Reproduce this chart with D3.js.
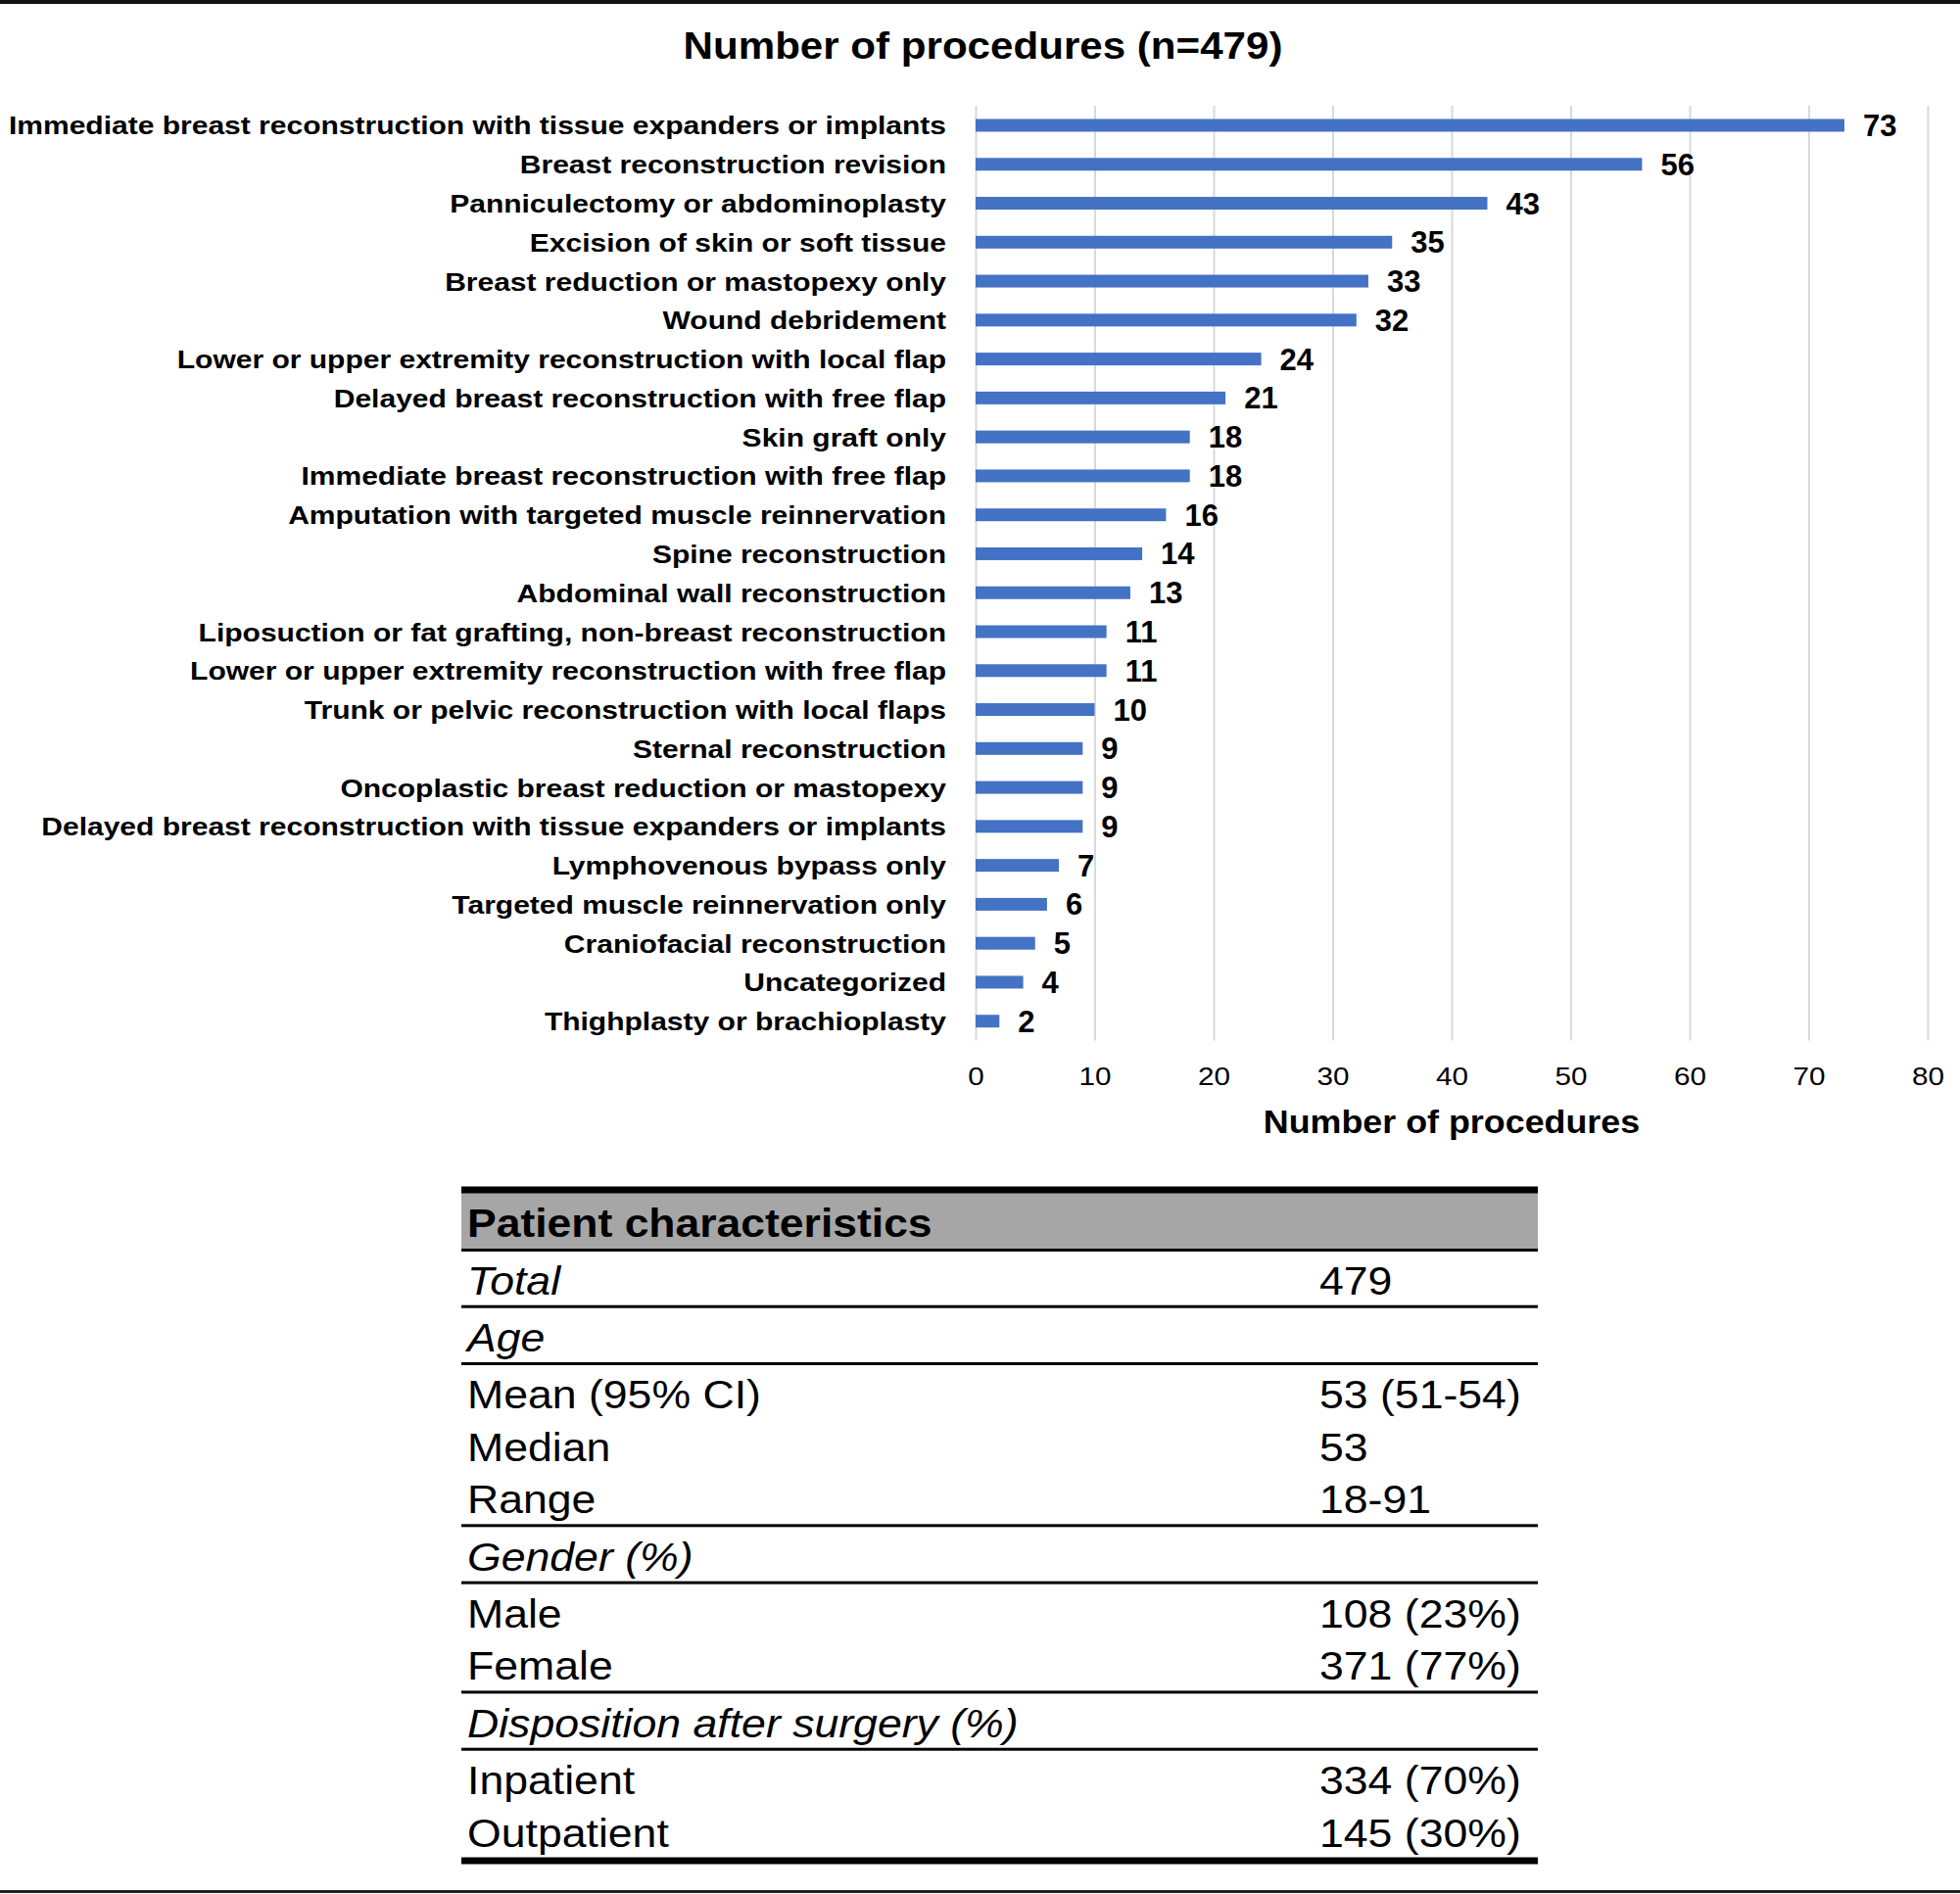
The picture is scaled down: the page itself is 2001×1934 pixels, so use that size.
<!DOCTYPE html>
<html>
<head>
<meta charset="utf-8">
<script src="https://cdn.jsdelivr.net/npm/d3@7"></script>
<style>
  html, body { margin: 0; padding: 0; background: #fff; }
  svg { display: block; }
  text { font-family: "Liberation Sans", Arial, sans-serif; fill: #000; }
</style>
</head>
<body>
<svg id="chart" width="2001" height="1934"></svg>
<script>
// ---------- data ----------
const chartTitle = "Number of procedures (n=479)";
const axisTitle = "Number of procedures";
const categories = [
  "Immediate breast reconstruction with tissue expanders or implants",
  "Breast reconstruction revision",
  "Panniculectomy or abdominoplasty",
  "Excision of skin or soft tissue",
  "Breast reduction or mastopexy only",
  "Wound debridement",
  "Lower or upper extremity reconstruction with local flap",
  "Delayed breast reconstruction with free flap",
  "Skin graft only",
  "Immediate breast reconstruction with free flap",
  "Amputation with targeted muscle reinnervation",
  "Spine reconstruction",
  "Abdominal wall reconstruction",
  "Liposuction or fat grafting, non-breast reconstruction",
  "Lower or upper extremity reconstruction with free flap",
  "Trunk or pelvic reconstruction with local flaps",
  "Sternal reconstruction",
  "Oncoplastic breast reduction or mastopexy",
  "Delayed breast reconstruction with tissue expanders or implants",
  "Lymphovenous bypass only",
  "Targeted muscle reinnervation only",
  "Craniofacial reconstruction",
  "Uncategorized",
  "Thighplasty or brachioplasty"
];
const counts = [73, 56, 43, 35, 33, 32, 24, 21, 18, 18, 16, 14, 13, 11, 11, 10, 9, 9, 9, 7, 6, 5, 4, 2];
const xTicks = [0, 10, 20, 30, 40, 50, 60, 70, 80];

const tableHeader = "Patient characteristics";
const tableLabels = ["Total", "Age", "Mean (95% CI)", "Median", "Range", "Gender (%)", "Male", "Female",
                     "Disposition after surgery (%)", "Inpatient", "Outpatient"];
const tableValues = ["479", "", "53 (51-54)", "53", "18-91", "", "108 (23%)", "371 (77%)", "", "334 (70%)", "145 (30%)"];
const sectionRows = ["Total", "Age", "Gender (%)", "Disposition after surgery (%)"];
const rowsFollowedByRule = ["Total", "Age", "Range", "Gender (%)", "Female", "Disposition after surgery (%)"];

// ---------- layout ----------
const svg = d3.select("#chart");
const W = 2001, H = 1934;
const plotLeft = 996, plotRight = 1968, plotTop = 108.1, plotBottom = 1062.6;
const barColor = "#4472C4";
const gridColor = "#d9d9d9";

function stretchedText(sel, x, y, sx) {
  return sel.attr("transform", `translate(${x},${y}) scale(${sx},1)`);
}

// frame lines
svg.append("rect").attr("x", 0).attr("y", 0).attr("width", W).attr("height", 4).attr("fill", "#111");
svg.append("rect").attr("x", 0).attr("y", 1930).attr("width", W).attr("height", 3).attr("fill", "#222");

// title
stretchedText(svg.append("text"), 1003.5, 60, 1.08)
  .attr("text-anchor", "middle").attr("font-size", 39).attr("font-weight", "bold").text(chartTitle);

const x = d3.scaleLinear().domain([0, 80]).range([plotLeft, plotRight]);
const y = d3.scaleBand().domain(categories).range([plotTop, plotBottom]).padding(0);

// gridlines
const grid = svg.append("g").attr("transform", `translate(0,${plotBottom})`)
  .call(d3.axisBottom(x).tickValues(xTicks).tickSize(-(plotBottom - plotTop)).tickFormat(""));
grid.select(".domain").remove();
grid.selectAll(".tick line").attr("stroke", gridColor).attr("stroke-width", 2);

// bars
const barH = 13;
svg.append("g").selectAll("rect").data(categories).join("rect")
  .attr("x", x(0))
  .attr("y", d => y(d) + y.bandwidth() / 2 - barH / 2)
  .attr("width", (d, i) => x(counts[i]) - x(0))
  .attr("height", barH)
  .attr("fill", barColor);

// value labels
svg.append("g").selectAll("text").data(categories).join("text")
  .attr("x", (d, i) => x(counts[i]) + 19)
  .attr("y", d => y(d) + y.bandwidth() / 2 + 11)
  .attr("font-size", 31).attr("font-weight", "bold")
  .text((d, i) => counts[i]);

// category labels
svg.append("g").selectAll("text").data(categories).join("text")
  .attr("transform", d => `translate(966,${y(d) + y.bandwidth() / 2 + 9.5}) scale(1.133,1)`)
  .attr("text-anchor", "end").attr("font-size", 26.5).attr("font-weight", "bold")
  .text(d => d);

// x axis tick labels
const ax = svg.append("g").attr("transform", `translate(0,${plotBottom})`)
  .call(d3.axisBottom(x).tickValues(xTicks).tickSize(0).tickPadding(0));
ax.select(".domain").remove();
ax.selectAll(".tick text")
  .attr("y", 45).attr("dy", null)
  .attr("transform", "scale(1.12,1)")
  .attr("font-family", "Liberation Sans, Arial, sans-serif")
  .attr("font-size", 26.5).attr("fill", "#000");

// axis title
stretchedText(svg.append("text"), (plotLeft + plotRight) / 2, 1156.5, 1.07)
  .attr("text-anchor", "middle").attr("font-size", 33.5).attr("font-weight", "bold").text(axisTitle);

// ---------- table ----------
const tLeft = 471, tRight = 1570;
const labelX = 477, valueX = 1347;
const tbl = svg.append("g");
tbl.append("rect").attr("x", tLeft).attr("y", 1218).attr("width", tRight - tLeft).attr("height", 57).attr("fill", "#a6a6a6");
tbl.append("rect").attr("x", tLeft).attr("y", 1211.5).attr("width", tRight - tLeft).attr("height", 7).attr("fill", "#000");
tbl.append("rect").attr("x", tLeft).attr("y", 1275).attr("width", tRight - tLeft).attr("height", 3).attr("fill", "#000");
stretchedText(tbl.append("text"), labelX, 1263, 1.085)
  .attr("font-size", 41).attr("font-weight", "bold").text(tableHeader);

const firstBaseline = 1321.7, rowStep = 53.5, ruleExtra = 4.8;
let sepCount = 0;
const rowY = tableLabels.map((lab, i) => {
  const yy = firstBaseline + i * rowStep + sepCount * ruleExtra;
  if (rowsFollowedByRule.includes(lab)) sepCount++;
  return yy;
});

tableLabels.forEach((lab, i) => {
  const isSection = sectionRows.includes(lab);
  stretchedText(tbl.append("text"), labelX, rowY[i], 1.115)
    .attr("font-size", 40).attr("font-style", isSection ? "italic" : "normal").text(lab);
  if (tableValues[i]) {
    stretchedText(tbl.append("text"), valueX, rowY[i], 1.115)
      .attr("font-size", 40).text(tableValues[i]);
  }
  if (rowsFollowedByRule.includes(lab)) {
    tbl.append("rect").attr("x", tLeft).attr("y", rowY[i] + 11).attr("width", tRight - tLeft).attr("height", 3).attr("fill", "#000");
  }
});
// bottom thick rule
tbl.append("rect").attr("x", tLeft).attr("y", rowY[rowY.length - 1] + 11).attr("width", tRight - tLeft).attr("height", 7).attr("fill", "#000");
</script>
</body>
</html>
